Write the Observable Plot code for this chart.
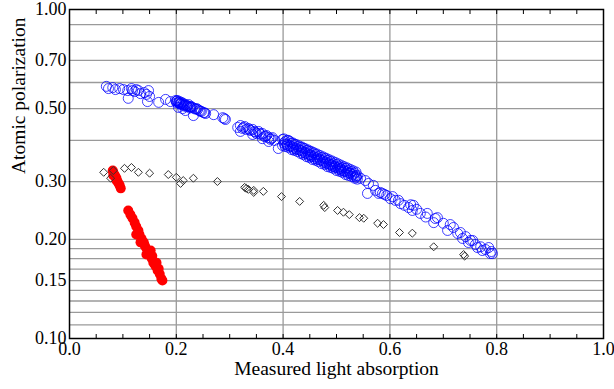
<!DOCTYPE html>
<html>
<head>
<meta charset="utf-8">
<script src="https://cdn.jsdelivr.net/npm/d3@7"></script>
<script src="https://cdn.jsdelivr.net/npm/@observablehq/plot@0.6"></script>
<style>
  html, body { margin: 0; padding: 0; background: #fff; }
  svg text { font-family: 'Liberation Serif', 'Times New Roman', Times, serif !important; }
</style>
</head>
<body>
<div id="chart"></div>
<script>
// ---- Data ----
const blueX = [
  0.069,0.073,0.081,0.086,0.094,0.101,0.109,0.116,0.118,0.122,0.125,0.129,0.133,0.140,0.144,0.148,0.150,0.146,0.110,0.167,0.180,0.189,
  0.199,0.200,0.202,0.204,0.206,0.208,0.210,0.212,0.213,0.217,0.219,0.223,0.225,0.228,0.230,0.234,0.238,0.240,0.243,0.247,0.251,0.255,0.212,0.204,0.232,0.217,0.270,0.287,0.292,0.290,
  0.201,0.205,0.209,0.215,0.221,0.227,0.236,0.245,0.253,
  0.201,0.207,0.214,0.220,0.226,
  0.315,0.320,0.324,0.328,0.331,0.335,0.339,0.343,0.346,0.350,0.354,0.358,0.361,0.365,0.369,0.373,0.376,0.380,0.384,0.320,0.343,0.361,0.391,0.373,
  0.326,0.337,0.348,0.356,0.367,0.378,
  0.399,0.399,0.404,0.404,0.410,0.410,0.416,0.416,0.421,0.421,0.427,0.427,0.433,0.433,0.438,0.438,0.444,0.444,0.449,0.449,0.455,0.455,0.461,0.461,0.466,0.466,0.472,0.472,0.478,0.478,0.483,0.483,0.489,0.489,0.494,0.494,0.500,0.500,0.506,0.506,0.511,0.511,0.517,0.517,0.522,0.522,0.528,0.528,0.534,0.534,0.539,0.539,
  0.414,0.433,0.451,0.470,0.489,0.507,0.526,
  0.403,0.408,0.419,0.425,0.436,0.442,0.448,0.453,0.459,0.464,0.476,0.481,0.487,0.493,0.498,0.504,0.509,0.515,0.521,0.532,0.537,
  0.4017,0.4073,0.4129,0.4185,0.4242,0.4298,0.4354,0.4410,0.4466,0.4522,0.4579,0.4635,0.4691,0.4747,0.4803,0.4860,0.4916,0.4972,0.5028,0.5084,0.5140,0.5197,0.5253,0.5309,0.5365,
  0.4017,0.4073,0.4129,0.4185,0.4242,0.4298,0.4354,0.4410,0.4466,0.4522,0.4579,0.4635,0.4691,0.4747,0.4803,0.4860,0.4916,0.4972,0.5028,0.5084,0.5140,0.5197,0.5253,0.5309,0.5365,
  0.545,0.554,0.560,0.569,0.558,0.573,0.579,0.582,0.586,0.590,0.594,0.601,0.605,0.610,0.616,0.620,0.627,0.635,0.639,0.642,0.650,0.657,0.670,0.644,
  0.682,0.689,0.700,0.708,0.713,0.719,0.727,0.732,0.736,0.742,0.747,0.751,0.755,0.760,0.764,0.770,0.773,0.779,0.785,0.788,0.792,0.790,0.685,0.667
];
const blueY = [
  0.584,0.575,0.579,0.571,0.575,0.571,0.567,0.575,0.567,0.563,0.571,0.567,0.555,0.559,0.552,0.567,0.544,0.525,0.537,0.522,0.533,0.525,
  0.529,0.525,0.529,0.522,0.525,0.518,0.522,0.514,0.518,0.514,0.511,0.514,0.507,0.507,0.504,0.500,0.500,0.497,0.493,0.490,0.486,0.483,0.500,0.504,0.476,0.493,0.479,0.469,0.463,0.466,
  0.527,0.520,0.516,0.512,0.509,0.505,0.498,0.491,0.485,
  0.520,0.516,0.509,0.506,0.502,
  0.438,0.444,0.435,0.441,0.432,0.435,0.429,0.432,0.426,0.420,0.426,0.417,0.420,0.411,0.414,0.408,0.403,0.408,0.400,0.426,0.417,0.405,0.378,0.397,
  0.438,0.431,0.424,0.420,0.412,0.405,
  0.403,0.386,0.397,0.383,0.400,0.381,0.392,0.375,0.389,0.373,0.383,0.370,0.381,0.365,0.378,0.362,0.373,0.357,0.370,0.355,0.367,0.350,0.362,0.348,0.357,0.345,0.355,0.340,0.352,0.338,0.348,0.333,0.345,0.331,0.340,0.329,0.338,0.324,0.333,0.322,0.331,0.320,0.329,0.315,0.324,0.313,0.322,0.311,0.318,0.307,0.313,0.305,
  0.383,0.373,0.362,0.348,0.338,0.329,0.318,
  0.389,0.386,0.378,0.375,0.367,0.365,0.360,0.357,0.352,0.350,0.343,0.340,0.336,0.333,0.331,0.3265,0.324,0.322,0.3175,0.311,0.309,
  0.4043,0.4006,0.3968,0.3929,0.3890,0.3852,0.3818,0.3780,0.3744,0.3707,0.3670,0.3637,0.3601,0.3566,0.3532,0.3497,0.3465,0.3432,0.3398,0.3365,0.3332,0.3302,0.3270,0.3238,0.3207,
  0.3931,0.3895,0.3858,0.3821,0.3783,0.3746,0.3713,0.3676,0.3641,0.3605,0.3569,0.3537,0.3502,0.3468,0.3435,0.3400,0.3369,0.3337,0.3304,0.3272,0.3240,0.3211,0.3180,0.3149,0.3118,
  0.307,0.302,0.296,0.292,0.276,0.282,0.276,0.278,0.276,0.274,0.272,0.266,0.270,0.263,0.263,0.257,0.254,0.250,0.255,0.245,0.247,0.240,0.240,0.254,
  0.225,0.233,0.224,0.213,0.222,0.2175,0.2085,0.210,0.2014,0.204,0.1958,0.1986,0.1986,0.193,0.189,0.190,0.1851,0.1864,0.189,0.1812,0.1812,0.1838,0.2316,0.234
];
const diamondX = [0.064,0.077,0.082,0.103,0.116,0.129,0.150,0.185,0.200,0.208,0.213,0.232,0.277,0.328,0.331,0.335,0.345,0.345,0.363,0.397,0.431,0.476,0.478,0.502,0.513,0.524,0.543,0.551,0.577,0.588,0.618,0.642,0.682,0.738,0.740];
const diamondY = [0.320,0.307,0.324,0.329,0.331,0.320,0.318,0.315,0.309,0.296,0.302,0.307,0.300,0.288,0.286,0.284,0.282,0.278,0.280,0.270,0.261,0.254,0.250,0.245,0.242,0.238,0.233,0.232,0.224,0.222,0.210,0.209,0.190,0.180,0.178];
const redX = [
  0.081,0.082,0.084,0.086,0.088,0.090,0.092,0.094,0.096,0.082,0.088,
  0.110,0.114,0.118,0.122,0.125,0.129,0.131,0.135,0.139,0.142,0.146,0.150,0.154,0.157,0.161,0.165,0.169,0.172,0.174,0.152,0.155,0.163,0.167,0.144,0.140,0.125,0.133
];
const redY = [
  0.324,0.320,0.315,0.311,0.307,0.300,0.296,0.292,0.286,0.313,0.302,
  0.245,0.238,0.232,0.225,0.219,0.213,0.207,0.201,0.196,0.190,0.185,0.180,0.175,0.170,0.166,0.161,0.157,0.152,0.150,0.185,0.178,0.170,0.163,0.180,0.193,0.207,0.196
];
const xTicks = [0, 0.2, 0.4, 0.6, 0.8, 1.0];
const xMinorTicks = [0.05,0.1,0.15,0.2,0.25,0.3,0.35,0.4,0.45,0.5,0.55,0.6,0.65,0.7,0.75,0.8,0.85,0.9,0.95];
const xGrid = [0.2, 0.4, 0.6, 0.8];
const yTicks = [0.10, 0.15, 0.20, 0.30, 0.50, 0.70, 1.00];
const yGrid = [0.11, 0.12, 0.13, 0.14, 0.15, 0.1625, 0.175, 0.1875, 0.2, 0.3, 0.4, 0.5, 0.6, 0.7, 0.8, 0.9];

const blue = blueX.map((x, i) => ({x, y: blueY[i]}));
const diamonds = diamondX.map((x, i) => ({x, y: diamondY[i]}));
const red = redX.map((x, i) => ({x, y: redY[i]}));

const serif = "'Liberation Serif', 'Times New Roman', Times, serif";

const chart = Plot.plot({
  width: 614,
  height: 389,
  marginLeft: 69,
  marginRight: 11,
  marginTop: 9,
  marginBottom: 51,
  style: {fontFamily: serif, fontSize: "18px", color: "black", background: "white", overflow: "visible"},
  x: {domain: [0, 1], label: null},
  y: {type: "log", domain: [0.1, 1], label: null},
  marks: [
    Plot.ruleY(yGrid, {stroke: "#9a9a9a", strokeWidth: 1.3}),
    Plot.ruleX(xGrid, {stroke: "#9a9a9a", strokeWidth: 1.3}),
    Plot.axisX({ticks: xMinorTicks, tickSize: -4, tickFormat: () => "", label: null, stroke: "black"}),
    Plot.axisX({anchor: "top", ticks: xMinorTicks, tickSize: -4, tickFormat: () => "", label: null, stroke: "black"}),
    Plot.axisX({ticks: xTicks, tickSize: 0, tickPadding: 4, tickFormat: d => d.toFixed(1), label: null, fontSize: 18, fontFamily: serif}),
    Plot.axisY({ticks: yTicks, tickSize: 0, tickPadding: 3, tickFormat: d => d.toFixed(2), label: null, fontSize: 18, fontFamily: serif}),
    Plot.dot(blue, {x: "x", y: "y", r: 5, stroke: "#0000ff", strokeOpacity: 0.75, strokeWidth: 1, fill: "none"}),
    Plot.dot(red, {x: "x", y: "y", r: 5, fill: "#ff0000", stroke: "none"}),
    Plot.dot(diamonds, {x: "x", y: "y", r: 3.6, symbol: "diamond2", stroke: "#333", strokeWidth: 1, fill: "none"}),
    Plot.frame({stroke: "black", strokeWidth: 1.5}),
    Plot.text(["Measured light absorption"], {frameAnchor: "bottom", dy: 36, fontSize: 19.5, fontFamily: serif, fill: "black"}),
    Plot.text(["Atomic polarization"], {frameAnchor: "left", dx: -51, rotate: -90, fontSize: 19.5, fontFamily: serif, fill: "black"})
  ]
});
document.getElementById("chart").appendChild(chart);
</script>
</body>
</html>
